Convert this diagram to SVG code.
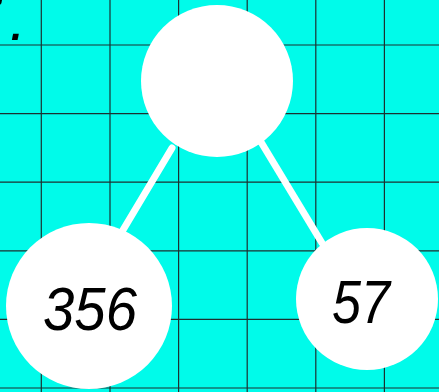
<svg xmlns="http://www.w3.org/2000/svg" width="439" height="392" viewBox="0 0 439 392">
<style>
.grid line{stroke:#1c3030;stroke-width:1.2}
.node circle{fill:#ffffff}
.conn line{stroke:#ffffff;stroke-width:7;stroke-linecap:round}
.lbl{font-family:"Liberation Sans",Arial,sans-serif;font-style:italic;font-size:62px;fill:#000;text-anchor:middle}
</style>
<rect width="439" height="392" fill="#00fbea"/>
<g class="grid">
<line x1="41.3" y1="0" x2="41.3" y2="392"/>
<line x1="110" y1="0" x2="110" y2="392"/>
<line x1="178.6" y1="0" x2="178.6" y2="392"/>
<line x1="247.2" y1="0" x2="247.2" y2="392"/>
<line x1="315.8" y1="0" x2="315.8" y2="392"/>
<line x1="384.4" y1="0" x2="384.4" y2="392"/>
<line x1="0" y1="45" x2="439" y2="45"/>
<line x1="0" y1="113.6" x2="439" y2="113.6"/>
<line x1="0" y1="182.2" x2="439" y2="182.2"/>
<line x1="0" y1="250.8" x2="439" y2="250.8"/>
<line x1="0" y1="319.4" x2="439" y2="319.4"/>
<line x1="0" y1="388" x2="439" y2="388"/>
</g>
<text x="-33" y="40" font-family="Liberation Sans,Arial,sans-serif" font-style="italic" font-size="60" fill="#000">7<tspan dx="9">.</tspan></text>
<g class="conn" id="connectors">
<line x1="172" y1="148" x2="123" y2="230"/>
<line x1="261" y1="142" x2="322" y2="243"/>
</g>
<g class="node" id="node-top"><circle cx="217" cy="81" r="76"/></g>
<g class="node" id="node-left"><circle cx="89" cy="306" r="83"/><text class="lbl" x="90" y="330" textLength="94" lengthAdjust="spacingAndGlyphs">356</text></g>
<g class="node" id="node-right"><circle cx="367" cy="299" r="71"/><text class="lbl" x="361" y="323" textLength="58" lengthAdjust="spacingAndGlyphs">57</text></g>
</svg>
